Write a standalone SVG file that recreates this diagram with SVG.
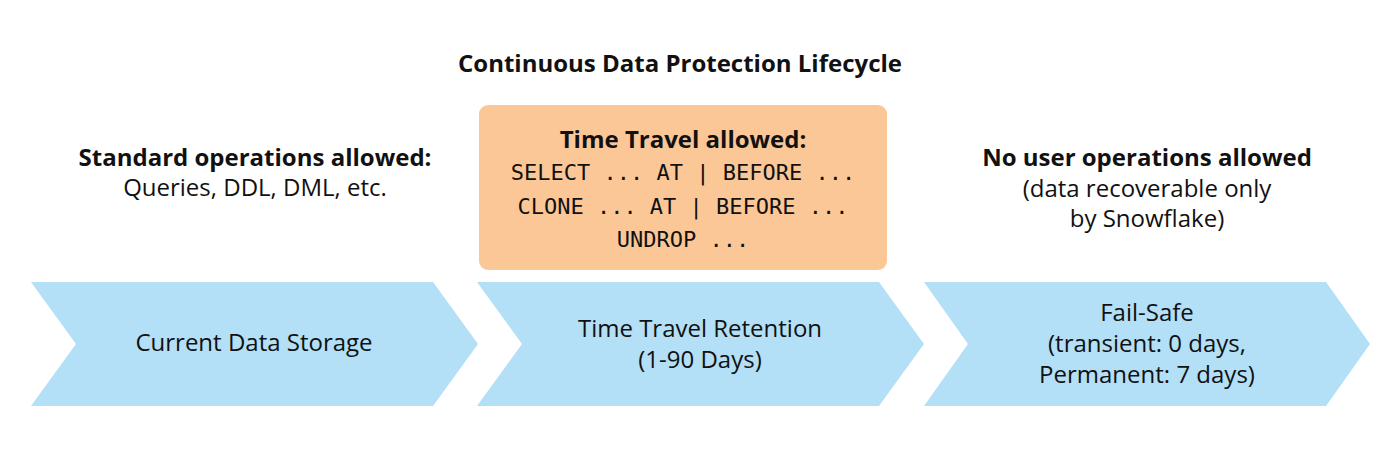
<svg xmlns="http://www.w3.org/2000/svg" width="1400" height="464" viewBox="0 0 1400 464">
<style>
.t{font-family:"Open Sans","Noto Sans","Liberation Sans",sans-serif;font-size:24px;fill:#111;text-anchor:middle}
.b{font-weight:bold}
.m{font-family:"DejaVu Sans Mono","Liberation Mono",monospace;font-size:22px;fill:#111;text-anchor:middle}
.chev{fill:#b3dff7}
</style>
<rect width="1400" height="464" fill="#fff"/>
<text class="t b" x="680" y="72" font-size="22">Continuous Data Protection Lifecycle</text>
<g id="standard-ops">
<text class="t b" x="255" y="166">Standard operations allowed:</text>
<text class="t" x="255" y="196">Queries, DDL, DML, etc.</text>
</g>
<g id="time-travel-ops">
<rect x="479" y="105" width="408" height="165" rx="9" fill="#fcc797"/>
<text class="t b" x="683" y="148">Time Travel allowed:</text>
<text class="m" x="683" y="180">SELECT ... AT | BEFORE ...</text>
<text class="m" x="683" y="214">CLONE ... AT | BEFORE ...</text>
<text class="m" x="683" y="247">UNDROP ...</text>
</g>
<g id="no-user-ops">
<text class="t b" x="1147" y="166">No user operations allowed</text>
<text class="t" x="1147" y="197">(data recoverable only</text>
<text class="t" x="1147" y="227">by Snowflake)</text>
</g>
<g id="current-data-storage">
<polygon class="chev" points="31,282 433,282 478,344 433,406 31,406 76,344"/>
<text class="t" x="254" y="351">Current Data Storage</text>
</g>
<g id="time-travel-retention">
<polygon class="chev" points="477,282 879,282 924,344 879,406 477,406 522,344"/>
<text class="t" x="700" y="337">Time Travel Retention</text>
<text class="t" x="700" y="368">(1-90 Days)</text>
</g>
<g id="fail-safe">
<polygon class="chev" points="924,282 1326,282 1370,344 1326,406 924,406 968,344"/>
<text class="t" x="1147" y="321">Fail-Safe</text>
<text class="t" x="1147" y="352">(transient: 0 days,</text>
<text class="t" x="1147" y="383">Permanent: 7 days)</text>
</g>
<g id="connectors"></g>
</svg>
